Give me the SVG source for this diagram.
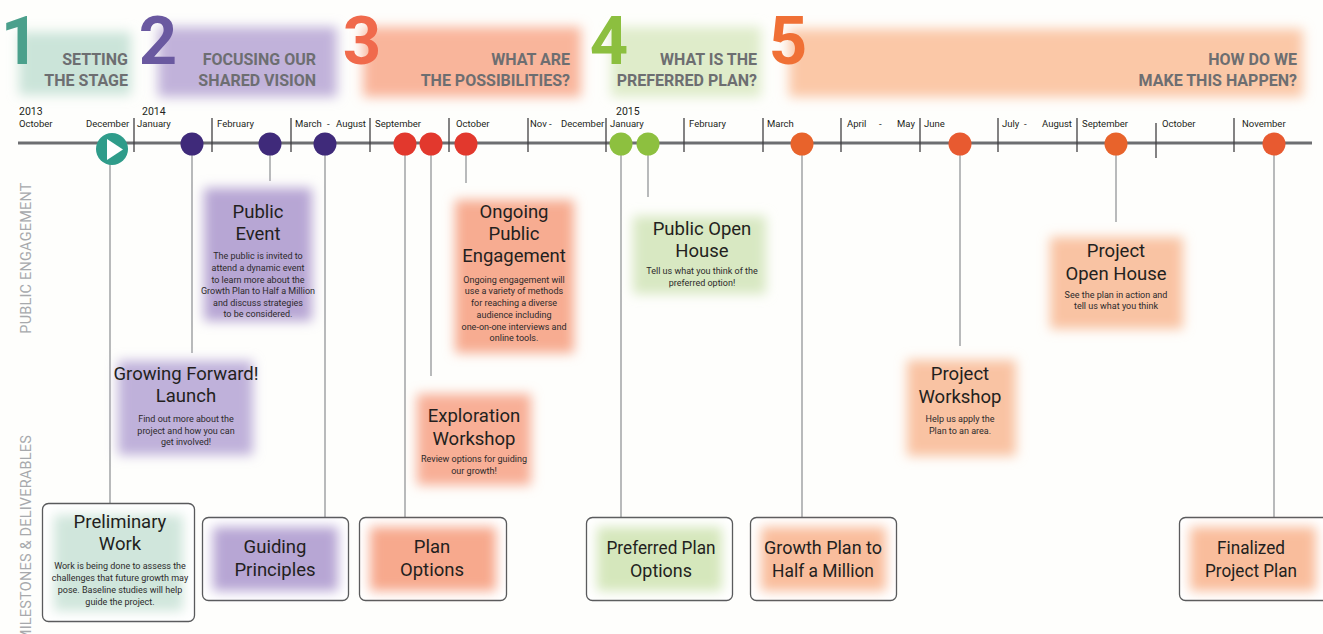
<svg xmlns="http://www.w3.org/2000/svg" width="1323" height="634" viewBox="0 0 1323 634">
<style>
.num{font-family:Roboto,"Liberation Sans",sans-serif;font-weight:700;font-size:67px;text-anchor:middle}
.hdr{font-family:Roboto,"Liberation Sans",sans-serif;font-weight:700;font-size:16px;fill:#6d6e71;text-anchor:end}
.yr{font-family:Roboto,"Liberation Sans",sans-serif;font-size:10.5px;fill:#231f20}
.mo{font-family:Roboto,"Liberation Sans",sans-serif;font-size:9.5px;fill:#231f20}
.side{font-family:Roboto,"Liberation Sans",sans-serif;font-size:14.5px;fill:#a7a9ac;letter-spacing:0.2px}
.ttl{font-family:Roboto,"Liberation Sans",sans-serif;font-size:18.5px;fill:#231f20;text-anchor:middle}
.body{font-family:Roboto,"Liberation Sans",sans-serif;font-size:9px;fill:#2d2a2b;text-anchor:middle}
.mttl{font-family:Roboto,"Liberation Sans",sans-serif;font-size:18.5px;fill:#231f20;text-anchor:middle}
.frame{fill:#fff;stroke:#58595b;stroke-width:1.3}
.tick{stroke:#414042;stroke-width:1.3}
.conn{stroke:#939598;stroke-width:1.3;fill:none}
</style>
<defs>
<filter id="soft" x="-30%" y="-30%" width="160%" height="160%"><feGaussianBlur stdDeviation="6"/></filter>
<clipPath id="pohClip"><rect x="620" y="200" width="160" height="87.5"/></clipPath>
</defs>
<rect width="1323" height="634" fill="#fefefc"/>

<g id="header">
<rect x="19" y="32" width="112" height="63" fill="#cbe4d9" filter="url(#soft)"/>
<rect x="158" y="27" width="179" height="70" fill="#c1b2da" filter="url(#soft)"/>
<rect x="363" y="27" width="218" height="70" fill="#f9b59b" filter="url(#soft)"/>
<rect x="611" y="27" width="150" height="70" fill="#dfecca" filter="url(#soft)"/>
<rect x="789" y="29" width="514" height="68" fill="#fbc8a7" filter="url(#soft)"/>
<text class="num" x="20" y="64" fill="#4ba08c">1</text>
<text class="num" x="158" y="64" fill="#6a59a0">2</text>
<text class="num" x="362" y="64" fill="#f06a4c">3</text>
<text class="num" x="609" y="64" fill="#8cbf3f">4</text>
<text class="num" x="788" y="64" fill="#f07035">5</text>
<text class="hdr" x="128" y="65">SETTING</text>
<text class="hdr" x="128" y="86">THE STAGE</text>
<text class="hdr" x="316" y="65">FOCUSING OUR</text>
<text class="hdr" x="316" y="86">SHARED VISION</text>
<text class="hdr" x="570" y="65">WHAT ARE</text>
<text class="hdr" x="570" y="86">THE POSSIBILITIES?</text>
<text class="hdr" x="757" y="65">WHAT IS THE</text>
<text class="hdr" x="757" y="86">PREFERRED PLAN?</text>
<text class="hdr" x="1297" y="65">HOW DO WE</text>
<text class="hdr" x="1297" y="86">MAKE THIS HAPPEN?</text>
</g>

<g id="side-labels">
<text class="side" transform="translate(31,258) rotate(-90)" text-anchor="middle">PUBLIC  ENGAGEMENT</text>
<text class="side" transform="translate(31,435) rotate(-90)" text-anchor="end">MILESTONES &amp; DELIVERABLES</text>
</g>

<g id="timeline">
<line x1="18" y1="143" x2="1312" y2="143" stroke="#6d6e71" stroke-width="3"/>
<g class="tick">
<line x1="134" y1="118" x2="134" y2="152"/>
<line x1="212" y1="118" x2="212" y2="152"/>
<line x1="291" y1="118" x2="291" y2="152"/>
<line x1="370" y1="118" x2="370" y2="152"/>
<line x1="449" y1="118" x2="449" y2="152"/>
<line x1="528" y1="118" x2="528" y2="152"/>
<line x1="606" y1="118" x2="606" y2="152"/>
<line x1="684" y1="118" x2="684" y2="152"/>
<line x1="763" y1="118" x2="763" y2="152"/>
<line x1="841" y1="118" x2="841" y2="152"/>
<line x1="920" y1="118" x2="920" y2="152"/>
<line x1="998" y1="118" x2="998" y2="152"/>
<line x1="1077" y1="118" x2="1077" y2="152"/>
<line x1="1156" y1="123" x2="1156" y2="158"/>
<line x1="1234" y1="118" x2="1234" y2="152"/>
</g>
<text class="yr" x="19" y="115">2013</text>
<text class="yr" x="142" y="115">2014</text>
<text class="yr" x="616" y="115">2015</text>
<text class="mo" x="19" y="127">October</text>
<text class="mo" x="86" y="127">December</text>
<text class="mo" x="137" y="127">January</text>
<text class="mo" x="217" y="127">February</text>
<text class="mo" y="127"><tspan x="295">March</tspan><tspan x="327">-</tspan><tspan x="336">August</tspan></text>
<text class="mo" x="375" y="127">September</text>
<text class="mo" x="456" y="127">October</text>
<text class="mo" y="127"><tspan x="530">Nov -</tspan><tspan x="561">December</tspan></text>
<text class="mo" x="610" y="127">January</text>
<text class="mo" x="689" y="127">February</text>
<text class="mo" x="767" y="127">March</text>
<text class="mo" y="127"><tspan x="847">April</tspan><tspan x="879">-</tspan><tspan x="897">May</tspan></text>
<text class="mo" x="924" y="127">June</text>
<text class="mo" y="127"><tspan x="1002">July</tspan><tspan x="1024">-</tspan><tspan x="1042">August</tspan></text>
<text class="mo" x="1082" y="127">September</text>
<text class="mo" x="1162" y="127">October</text>
<text class="mo" x="1242" y="127">November</text>
</g>

<g id="connectors" class="conn">
<line x1="110" y1="160" x2="110" y2="503"/>
<line x1="192" y1="150" x2="192" y2="353"/>
<line x1="270" y1="150" x2="270" y2="181"/>
<line x1="325" y1="150" x2="325" y2="517"/>
<line x1="405" y1="150" x2="405" y2="517"/>
<line x1="431" y1="150" x2="431" y2="376"/>
<line x1="466" y1="150" x2="466" y2="183"/>
<line x1="621" y1="150" x2="621" y2="517"/>
<line x1="648" y1="150" x2="648" y2="197"/>
<line x1="802" y1="150" x2="802" y2="517"/>
<line x1="960" y1="150" x2="960" y2="346"/>
<line x1="1116" y1="150" x2="1116" y2="222"/>
<line x1="1274" y1="150" x2="1274" y2="517"/>
</g>

<g id="markers">
<circle cx="112" cy="149" r="16" fill="#2f9c8a"/>
<polygon points="107,139 107,160 123,149.5" fill="#fff"/>
<circle cx="192" cy="144" r="11.5" fill="#3f2a7a"/>
<circle cx="270" cy="144" r="11.5" fill="#3f2a7a"/>
<circle cx="325" cy="144" r="11.5" fill="#3f2a7a"/>
<circle cx="405" cy="144" r="11.5" fill="#e2382d"/>
<circle cx="431" cy="144" r="11.5" fill="#e2382d"/>
<circle cx="466" cy="144" r="11.5" fill="#e2382d"/>
<circle cx="621" cy="144" r="11.5" fill="#8dc03f"/>
<circle cx="648" cy="144" r="11.5" fill="#8dc03f"/>
<circle cx="802" cy="144" r="11.5" fill="#e8632b"/>
<circle cx="960" cy="144" r="11.5" fill="#e85a30"/>
<circle cx="1116" cy="144" r="11.5" fill="#e8632b"/>
<circle cx="1274" cy="144" r="11.5" fill="#e85a30"/>
</g>

<g id="public-event">
<rect x="204" y="188" width="108" height="133" fill="#b7a6d4" filter="url(#soft)"/>
<text class="ttl" x="258" y="218">Public</text>
<text class="ttl" x="258" y="240">Event</text>
<text class="body" x="258" y="259">The public is invited to</text>
<text class="body" x="258" y="271">attend a dynamic event</text>
<text class="body" x="258" y="283">to learn more about the</text>
<text class="body" x="258" y="294">Growth Plan to Half a Million</text>
<text class="body" x="258" y="306">and discuss strategies</text>
<text class="body" x="258" y="317">to be considered.</text>
</g>

<g id="growing-forward">
<rect x="118" y="361" width="135" height="94" fill="#bfb1da" filter="url(#soft)"/>
<text class="ttl" x="186" y="380">Growing Forward!</text>
<text class="ttl" x="186" y="402">Launch</text>
<text class="body" x="186" y="422">Find out more about the</text>
<text class="body" x="186" y="434">project and how you can</text>
<text class="body" x="186" y="445">get involved!</text>
</g>

<g id="ongoing-engagement">
<rect x="455" y="200" width="119" height="153" fill="#f7ac91" filter="url(#soft)"/>
<text class="ttl" x="514" y="218">Ongoing</text>
<text class="ttl" x="514" y="240">Public</text>
<text class="ttl" x="514" y="262">Engagement</text>
<text class="body" x="514" y="283">Ongoing engagement will</text>
<text class="body" x="514" y="294">use a variety of methods</text>
<text class="body" x="514" y="306">for reaching a diverse</text>
<text class="body" x="514" y="318">audience including</text>
<text class="body" x="514" y="330">one-on-one interviews and</text>
<text class="body" x="514" y="341">online tools.</text>
</g>

<g id="exploration-workshop">
<rect x="417" y="394" width="114" height="91" fill="#f8af96" filter="url(#soft)"/>
<text class="ttl" x="474" y="422">Exploration</text>
<text class="ttl" x="474" y="445">Workshop</text>
<text class="body" x="474" y="462">Review options for guiding</text>
<text class="body" x="474" y="474">our growth!</text>
</g>

<g id="public-open-house">
<rect x="633" y="216" width="133" height="78" fill="#d8e8c2" filter="url(#soft)"/>
<text class="ttl" x="702" y="235">Public Open</text>
<text class="ttl" x="702" y="257">House</text>
<g clip-path="url(#pohClip)">
<text class="body" x="702" y="274">Tell us what you think of the</text>
<text class="body" x="702" y="286">preferred option!</text>
</g>
</g>

<g id="project-workshop">
<rect x="907" y="360" width="109" height="96" fill="#f9c3a3" filter="url(#soft)"/>
<text class="ttl" x="960" y="380">Project</text>
<text class="ttl" x="960" y="403">Workshop</text>
<text class="body" x="960" y="422">Help us apply the</text>
<text class="body" x="960" y="434">Plan to an area.</text>
</g>

<g id="project-open-house">
<rect x="1050" y="237" width="133" height="92" fill="#f9c3a3" filter="url(#soft)"/>
<text class="ttl" x="1116" y="257">Project</text>
<text class="ttl" x="1116" y="280">Open House</text>
<text class="body" x="1116" y="298">See the plan in action and</text>
<text class="body" x="1116" y="309">tell us what you think</text>
</g>

<g id="preliminary-work">
<rect class="frame" x="42.5" y="503.5" width="152" height="118" rx="6"/>
<rect x="54" y="515" width="129" height="96" fill="#d0e6dc" filter="url(#soft)"/>
<text class="ttl" x="120" y="528">Preliminary</text>
<text class="ttl" x="120" y="550">Work</text>
<text class="body" x="120" y="569">Work is being done to assess the</text>
<text class="body" x="120" y="581">challenges that future growth may</text>
<text class="body" x="120" y="593">pose. Baseline studies will help</text>
<text class="body" x="120" y="605">guide the project.</text>
</g>

<g id="guiding-principles">
<rect class="frame" x="202.5" y="517.5" width="146" height="83" rx="6"/>
<rect x="213" y="527" width="125" height="64" fill="#b7a6d4" filter="url(#soft)"/>
<text class="ttl" x="275" y="553" font-size="19">Guiding</text>
<text class="ttl" x="275" y="576" font-size="19">Principles</text>
</g>

<g id="plan-options">
<rect class="frame" x="359.5" y="517.5" width="147" height="83" rx="6"/>
<rect x="370" y="527" width="126" height="64" fill="#f7a98d" filter="url(#soft)"/>
<text class="ttl" x="432" y="553" font-size="19">Plan</text>
<text class="ttl" x="432" y="576" font-size="19">Options</text>
</g>

<g id="preferred-plan-options">
<rect class="frame" x="586.5" y="517.5" width="146" height="83" rx="6"/>
<rect x="597" y="527" width="125" height="64" fill="#d5e7bc" filter="url(#soft)"/>
<text class="mttl" x="661" y="554" textLength="109" lengthAdjust="spacingAndGlyphs">Preferred Plan</text>
<text class="mttl" x="661" y="577" textLength="62" lengthAdjust="spacingAndGlyphs">Options</text>
</g>

<g id="growth-plan">
<rect class="frame" x="750.5" y="517.5" width="146" height="83" rx="6"/>
<rect x="761" y="527" width="125" height="64" fill="#f9bd9c" filter="url(#soft)"/>
<text class="mttl" x="823" y="554" textLength="118" lengthAdjust="spacingAndGlyphs">Growth Plan to</text>
<text class="mttl" x="823" y="577" textLength="102" lengthAdjust="spacingAndGlyphs">Half a Million</text>
</g>

<g id="finalized-project-plan">
<rect class="frame" x="1179.5" y="517.5" width="150" height="83" rx="6"/>
<rect x="1190" y="527" width="126" height="64" fill="#f9bd9c" filter="url(#soft)"/>
<text class="mttl" x="1251" y="554" textLength="68" lengthAdjust="spacingAndGlyphs">Finalized</text>
<text class="mttl" x="1251" y="577" textLength="92" lengthAdjust="spacingAndGlyphs">Project Plan</text>
</g>
</svg>
